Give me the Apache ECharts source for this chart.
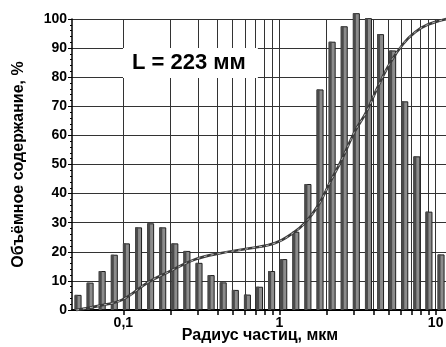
<!DOCTYPE html>
<html><head><meta charset="utf-8">
<script src="https://cdn.jsdelivr.net/npm/echarts@6/dist/echarts.min.js"></script>
<style>html,body{margin:0;padding:0;background:#fff}#c{width:446px;height:347px}</style>
</head><body><div id="c"></div>
<script>
// particle radius (µm) at each bar
const radii = [0.0498,0.0595,0.0711,0.0850,0.1016,0.1215,0.1452,0.1736,0.2075,0.2480,0.2965,0.3544,0.4236,0.5064,0.6053,0.7236,0.8650,1.034,1.236,1.477,1.766,2.111,2.523,3.016,3.606,4.310,5.152,6.159,7.362,8.800,10.52];
// bar heights (%)
const volume = [5.2,9.4,13.4,19,22.9,28.4,29.8,28.4,22.9,20.3,16.2,12,9.5,6.9,5.3,8,13.4,17.5,26.9,43.3,75.8,92.2,97.5,102,100.3,94.8,89.2,71.7,52.8,33.8,19.1];
// cumulative curve
const curveR = [0.0499,0.0709,0.0981,0.144,0.1934,0.2924,0.4178,0.6489,0.9384,1.224,1.461,1.771,2.113,2.523,3.012,3.596,4.293,5.124,6.207,7.412,8.848,11.71];
const curveV = [0,1.5,3.5,9.5,13,17.5,19.5,21.2,23,26.5,30,36,44,52,61,68,77,85,91.5,95.5,98,100];
// x grid lines / ticks and labels
const xGrid = [0.1,0.2,0.3,0.4,0.5,0.6,0.7,0.8,0.9,1,2,3,4,5,6,7,8,9,10];
const xLabels = [0.1,1,10];
const yMin = 0, yMax = 100, yStep = 10;
const titleText = 'L = 223 мм';
const xName = 'Радиус частиц, мкм';
const yName = 'Объёмное содержание, %';

const chart = echarts.init(document.getElementById('c'), null, {renderer:'canvas'});
const ff = '"Liberation Sans", Arial, sans-serif';
const barPairs = radii.map((r,i)=>[r, volume[i]]);
const curvePairs = curveR.map((r,i)=>[r, curveV[i]]);
chart.setOption({
  animation:false,
  backgroundColor:'#fff',
  title:{
    text:titleText, left:123, top:48, padding:[4,12,4,9],
    backgroundColor:'#fff',
    textStyle:{fontFamily:ff,fontWeight:'bold',fontSize:22,color:'#000',lineHeight:22}
  },
  grid:{left:72,right:-2,top:19,bottom:37,containLabel:false,outerBoundsMode:'none'},
  xAxis:{
    type:'log', min:0.0469, max:12,
    name:xName, nameLocation:'middle', nameGap:18, nameMoveOverlap:false,
    nameTextStyle:{fontFamily:ff,fontWeight:'bold',fontSize:16,color:'#000'},
    axisLine:{show:true,lineStyle:{color:'#000',width:2}},
    axisTick:{show:true,length:5,customValues:xGrid,lineStyle:{color:'#000',width:1.5}},
    axisLabel:{customValues:xLabels,margin:6,fontFamily:ff,fontWeight:'bold',fontSize:14,color:'#000',
      formatter:v=>String(v).replace('.',',')},
    splitLine:{show:true,lineStyle:{color:'#333',width:1}},
    minorTick:{show:false},minorSplitLine:{show:false}
  },
  yAxis:{
    type:'value', min:yMin, max:yMax, interval:yStep,
    name:yName, nameLocation:'middle', nameGap:45, nameMoveOverlap:false,
    nameTextStyle:{fontFamily:ff,fontWeight:'bold',fontSize:16,color:'#000'},
    axisLine:{show:true,lineStyle:{color:'#000',width:1.5}},
    axisTick:{show:true,length:4,lineStyle:{color:'#000',width:1}},
    minorTick:{show:true,splitNumber:5,length:2,lineStyle:{color:'#000',width:1}},
    axisLabel:{margin:5,fontFamily:ff,fontWeight:'bold',fontSize:14,color:'#000'},
    splitLine:{show:true,lineStyle:{color:'#333',width:1}}
  },
  series:[
    {type:'bar',data:barPairs,barWidth:7,barGap:'-100%',clip:false,z:2,
      itemStyle:{color:'#8c8c8c',borderColor:'#1e1e1e',borderWidth:1}},
    {type:'bar',data:barPairs,barWidth:3,barGap:'-100%',clip:false,z:3,
      itemStyle:{color:'#4a4a4a',borderWidth:0}},
    {type:'line',data:curvePairs,smooth:0.4,showSymbol:false,clip:false,z:5,
      lineStyle:{color:'#3a3a3a',width:2.6}},
    {type:'line',data:curvePairs,smooth:0.4,showSymbol:false,clip:false,z:6,
      lineStyle:{color:'#d8d8d8',width:0.8,type:[3,4]}}
  ]
});
</script></body></html>
